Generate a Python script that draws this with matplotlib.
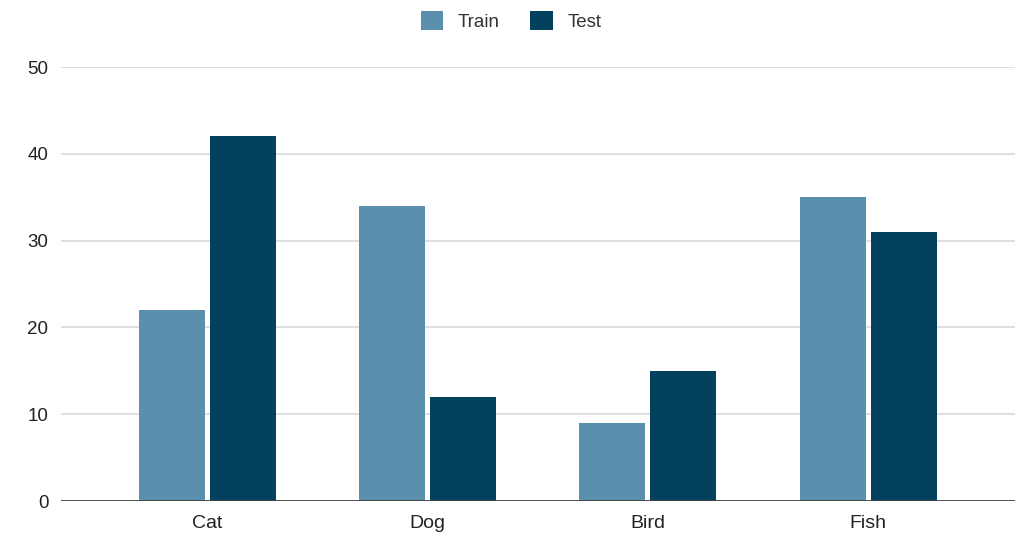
import numpy as np
import matplotlib
matplotlib.use("Agg")
import matplotlib.pyplot as plt

plt.rcParams['font.family'] = ['Liberation Sans', 'DejaVu Sans']

categories = ["Cat", "Dog", "Bird", "Fish"]
train = [22, 34, 9, 35]
test = [42, 12, 15, 31]

train_color = "#5a8fae"
test_color = "#03415f"

fig = plt.figure(figsize=(10.2, 5.38), dpi=100)
ax = fig.add_axes([61 / 1020, 1 - 501 / 538, (1015 - 61) / 1020, (501 - 67) / 538])

x = np.arange(len(categories))
w = 0.30
ax.bar(x - 0.161, train, width=w, color=train_color, label="Train", zorder=3)
ax.bar(x + 0.161, test, width=w, color=test_color, label="Test", zorder=3)

ax.set_xlim(-0.665, 3.667)
ax.set_ylim(0, 50)
ax.set_yticks([0, 10, 20, 30, 40, 50])
ax.set_xticks(x)
ax.set_xticklabels(categories)

ax.grid(axis="y", color="#d9d9d9", linewidth=1.2, zorder=0)
ax.axhline(0, color="#444444", linewidth=1.3, zorder=4)
for s in ax.spines.values():
    s.set_visible(False)
ax.tick_params(axis="y", length=0, labelsize=13.5, colors="#222222", pad=9)
ax.tick_params(axis="x", length=0, labelsize=14, colors="#222222", pad=10)

leg = fig.legend(loc="upper center", bbox_to_anchor=(0.501, 1.011), ncol=2, frameon=False,
                 fontsize=13.5, handlelength=1.2, handleheight=1.2, columnspacing=1.6,
                 handletextpad=0.8)
for t in leg.get_texts():
    t.set_color("#333333")

fig.savefig("out.png", dpi=100)
